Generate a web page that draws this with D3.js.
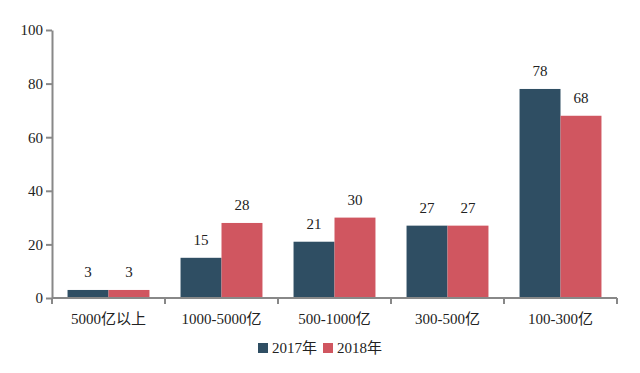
<!DOCTYPE html>
<html>
<head>
<meta charset="utf-8">
<script src="https://cdn.jsdelivr.net/npm/d3@7"></script>
<style>
  body { margin: 0; background: #fff; }
  text { font-family: "Liberation Serif", "Noto Sans CJK SC", serif; fill: #222; }
</style>
</head>
<body>
<div id="chart"></div>
<script>
// categories and values
var categories = ["5000亿以上", "1000-5000亿", "500-1000亿", "300-500亿", "100-300亿"];
var seriesNames = ["2017年", "2018年"];
var values2017 = [3, 15, 21, 27, 78];
var values2018 = [3, 28, 30, 27, 68];
var yTicks = [0, 20, 40, 60, 80, 100];
var colors = ["#2f4e63", "#d05660"];

var svgWidth = 640;
var svgHeight = 373;
var margin = { top: 30, right: 23, bottom: 75, left: 52 };
var width = svgWidth - margin.left - margin.right;
var height = svgHeight - margin.top - margin.bottom;

var svg = d3.select("#chart").append("svg")
    .attr("width", svgWidth)
    .attr("height", svgHeight);

var g = svg.append("g")
    .attr("transform", `translate(${margin.left}, ${margin.top})`);

var x0 = d3.scaleBand()
    .domain(categories)
    .range([0, width])
    .paddingInner(0.275)
    .paddingOuter(0.1375);

var x1 = d3.scaleBand()
    .domain(seriesNames)
    .range([0, x0.bandwidth()]);

var y = d3.scaleLinear()
    .domain([0, 100])
    .range([height, 0]);

var data = categories.map(function(c, i) {
    return { cat: c, vals: [values2017[i], values2018[i]] };
});

// bars
var groups = g.selectAll(".grp")
    .data(data)
    .enter().append("g")
    .attr("transform", d => `translate(${x0(d.cat)}, 0)`);

groups.selectAll("rect")
    .data(d => d.vals.map((v, i) => ({ name: seriesNames[i], v: v, i: i })))
    .enter().append("rect")
    .attr("x", d => x1(d.name))
    .attr("y", d => y(d.v))
    .attr("width", x1.bandwidth())
    .attr("height", d => height - y(d.v))
    .attr("fill", d => colors[d.i]);

groups.selectAll(".lbl")
    .data(d => d.vals.map((v, i) => ({ name: seriesNames[i], v: v })))
    .enter().append("text")
    .attr("x", d => x1(d.name) + x1.bandwidth() / 2)
    .attr("y", d => y(d.v) - 13)
    .attr("text-anchor", "middle")
    .style("font-size", "15px")
    .text(d => d.v);

// y axis
var yAxis = g.append("g")
    .call(d3.axisLeft(y).tickValues(yTicks).tickSize(6).tickSizeOuter(0));

// x axis, ticks at band edges
var bandEdges = categories.map(c => x0(c) - x0.step() * x0.paddingInner() / 2);
bandEdges[0] = 0;
bandEdges.push(width);

var xAxis = g.append("g")
    .attr("transform", `translate(0, ${height})`);
xAxis.append("line")
    .attr("x1", 0).attr("x2", width)
    .attr("stroke", "#888").attr("stroke-width", 2);
xAxis.selectAll(".tk")
    .data(bandEdges)
    .enter().append("line")
    .attr("x1", d => d).attr("x2", d => d)
    .attr("y1", 0).attr("y2", 6)
    .attr("stroke", "#888").attr("stroke-width", 2);
xAxis.selectAll(".xl")
    .data(categories)
    .enter().append("text")
    .attr("x", d => x0(d) + x0.bandwidth() / 2)
    .attr("y", 26)
    .attr("text-anchor", "middle")
    .style("font-size", "15px")
    .text(d => d);

yAxis.select(".domain").attr("stroke", "#888").attr("stroke-width", 2);
yAxis.selectAll(".tick line").attr("stroke", "#888").attr("stroke-width", 2);
yAxis.selectAll(".tick text")
    .style("font-size", "15px")
    .style("font-family", "'Liberation Serif', serif")
    .attr("fill", "#222")
    .attr("x", -9);

// legend
var legend = svg.append("g")
    .attr("transform", "translate(258, 348)");
var legendX = [0, 65];
seriesNames.forEach(function(name, i) {
    legend.append("rect")
        .attr("x", legendX[i])
        .attr("y", -5)
        .attr("width", 10)
        .attr("height", 10)
        .attr("fill", colors[i]);
    legend.append("text")
        .attr("x", legendX[i] + 14)
        .attr("y", 5)
        .style("font-size", "15px")
        .text(name);
});
</script>
</body>
</html>
